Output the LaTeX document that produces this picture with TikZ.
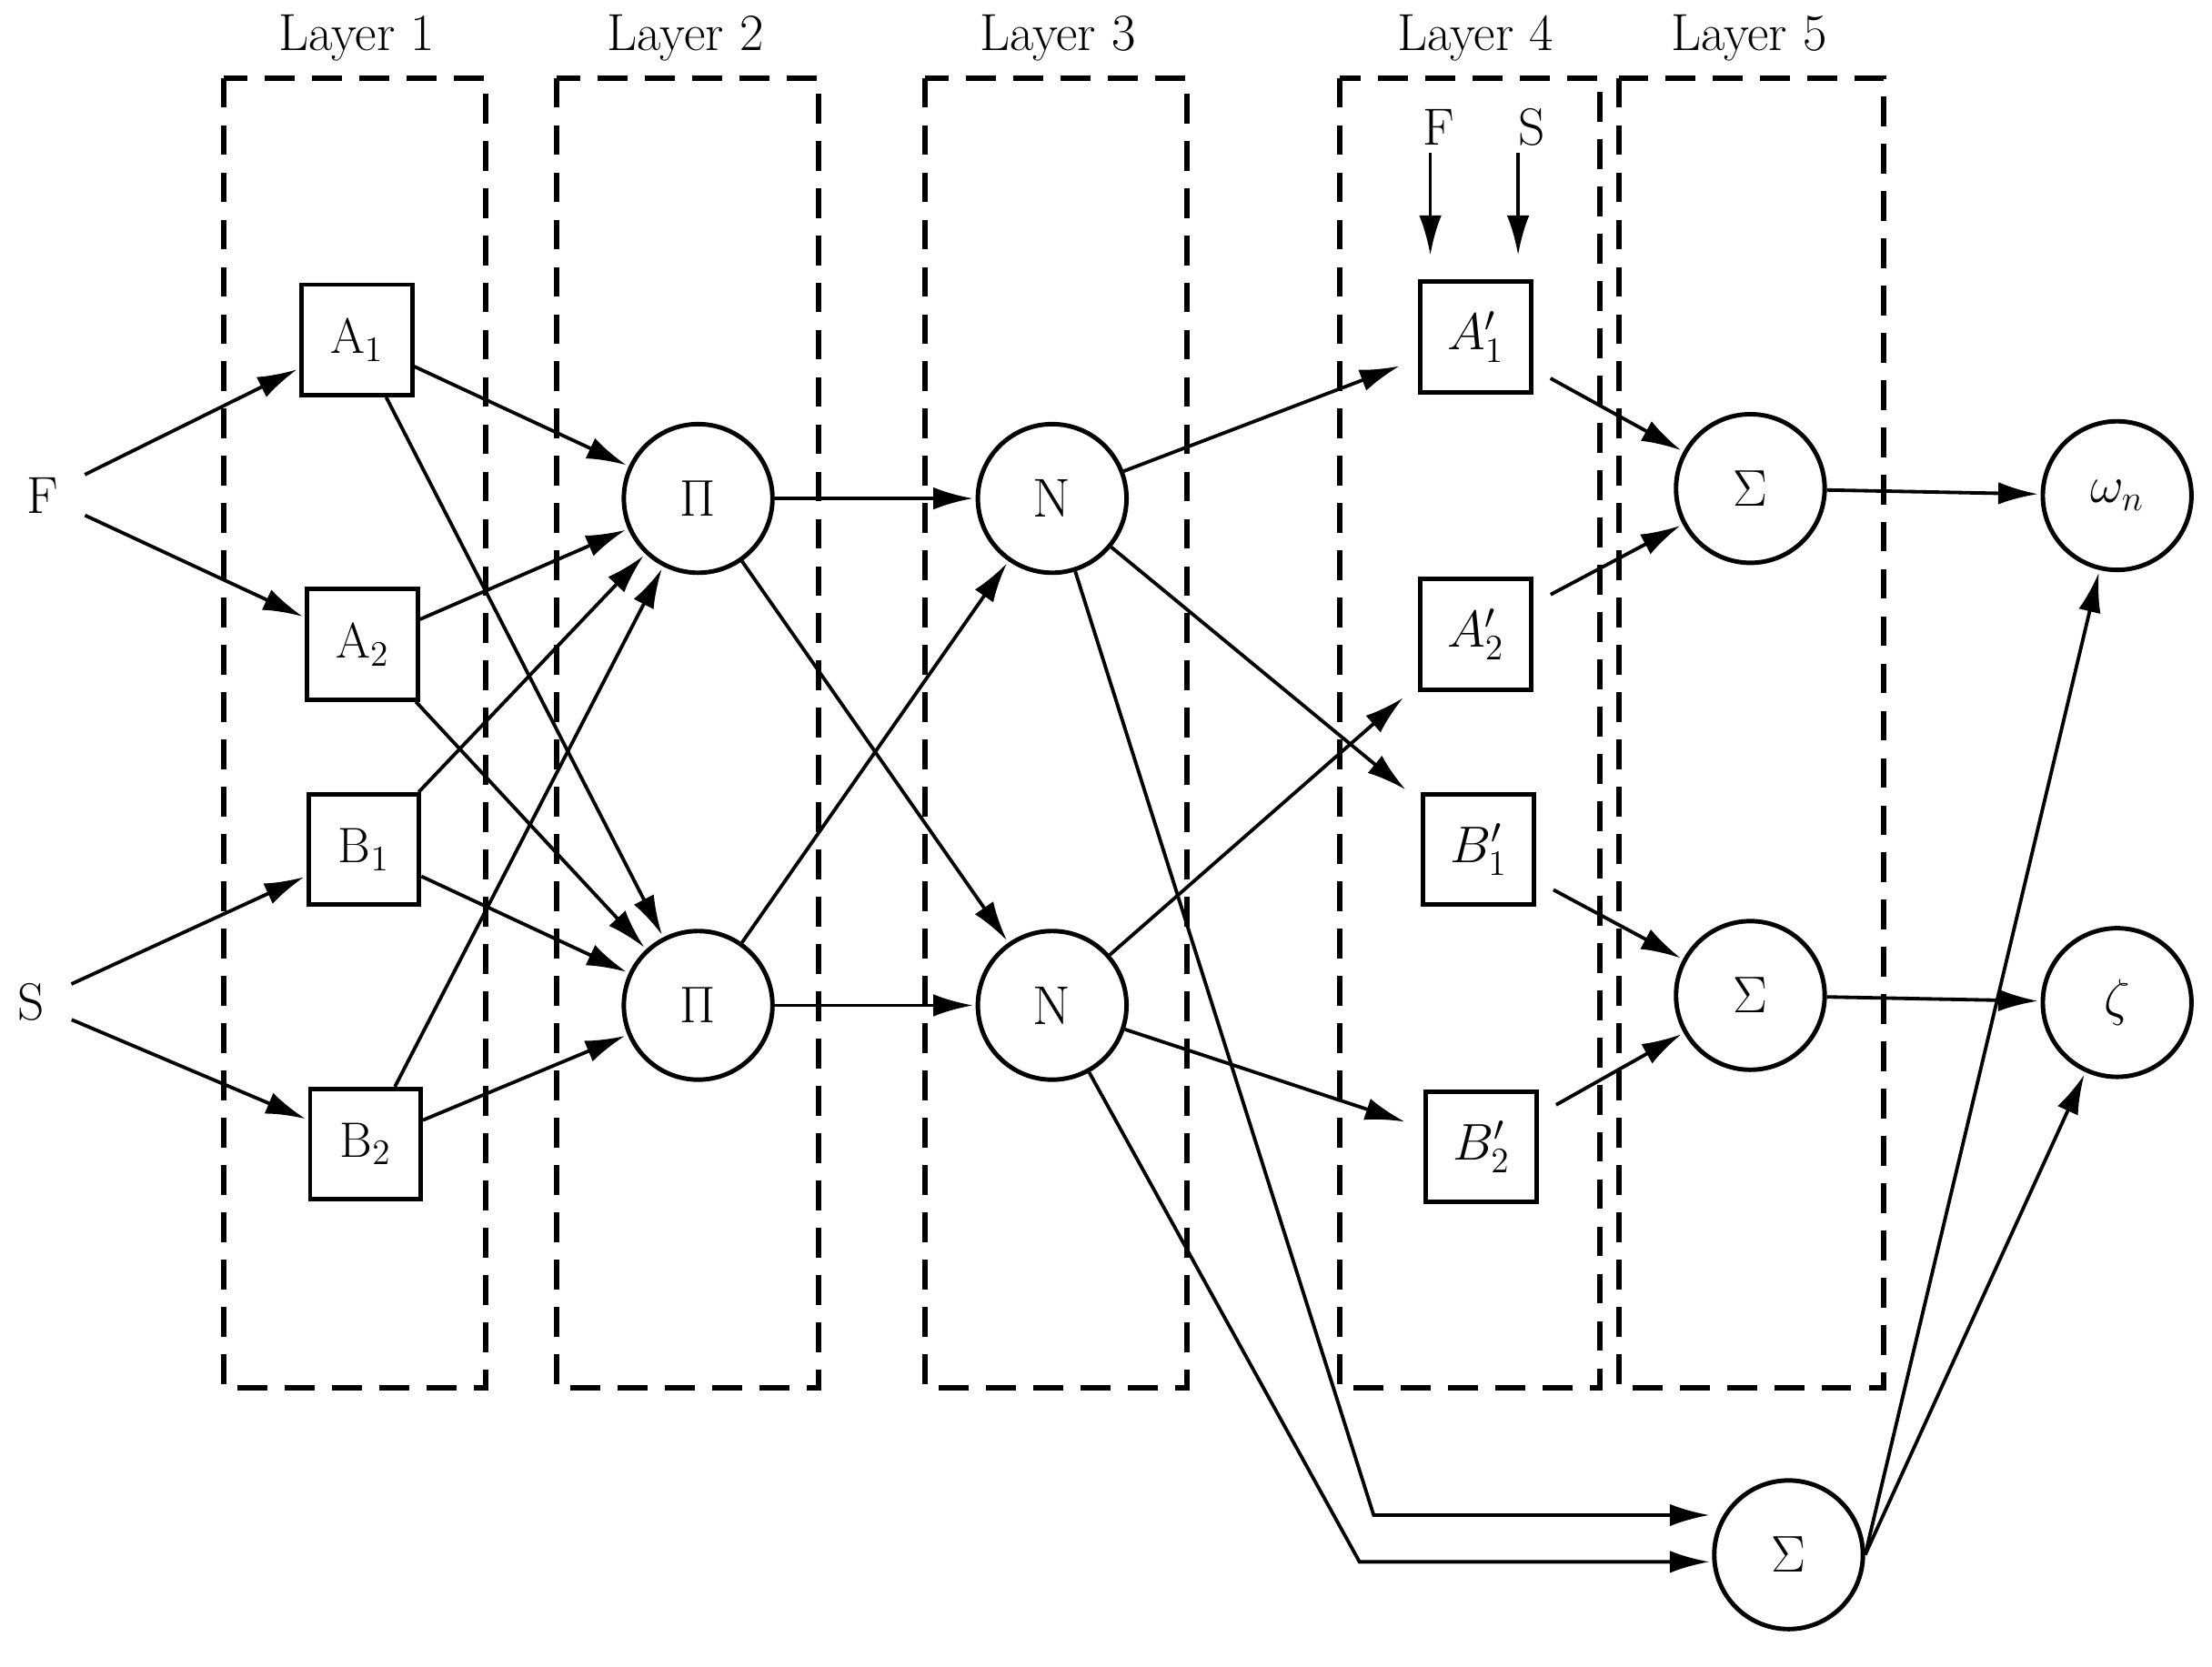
\documentclass[tikz,border=0pt]{standalone}
\usepackage{amsmath}
\usepackage{amssymb}
\usetikzlibrary{arrows,arrows.meta,positioning}
\tikzset{
  sq/.style={draw,line width=1.8pt,minimum size=1.56cm,inner sep=0pt,font=\fontsize{20}{24}\selectfont},
  circ/.style={draw,circle,line width=1.8pt,minimum size=2.1cm,inner sep=0pt,font=\fontsize{22}{26}\selectfont},
  layer/.style={draw,dashed,line width=2.2pt,dash pattern=on 12pt off 7pt},
  lbl/.style={font=\fontsize{21}{25}\selectfont},
  wire/.style={-{Latex[length=16pt,width=9pt]},line width=1.4pt,shorten >=1pt}
}
\begin{document}
\begin{tikzpicture}[x=0.02cm,y=-0.02cm]
   \useasboundingbox (0,0) rectangle (1562,1177);
   % layers
   \draw[layer] (158,55) rectangle (343,980);
   \draw[layer] (393,55) rectangle (578,980);
   \draw[layer] (653,55) rectangle (838,980);
   \draw[layer] (946,55) rectangle (1130,980);
   \draw[layer] (1143,55) rectangle (1330,980);
   \node[lbl] at (252,27) {Layer 1};
   \node[lbl] at (484,27) {Layer 2};
   \node[lbl] at (747,27) {Layer 3};
   \node[lbl] at (1042,27) {Layer 4};
   \node[lbl] at (1235,27) {Layer 5};
   % inputs
   \node[lbl] (f) at (30,350) {F};
   \node[lbl] (s) at (22,708) {S};
   \node[lbl] (f4) at (1016,90) {F};
   \node[lbl] (s4) at (1082,90) {S};
   % layer 1
   \node[sq] (a_1) at (252,240) {A$_1$};
   \node[sq] (a_2) at (256,455) {A$_2$};
   \node[sq] (b_1) at (257,600) {B$_1$};
   \node[sq] (b_2) at (258,808) {B$_2$};
   % layer 2, 3
   \node[circ] (p_1) at (493,352) {$\Pi$};
   \node[circ] (p_2) at (493,710) {$\Pi$};
   \node[circ] (n_1) at (743,352) {N};
   \node[circ] (n_2) at (743,710) {N};
   % layer 4
   \node[sq] (a_1') at (1042,238) {$A_1'$};
   \node[sq] (a_2') at (1042,448) {$A_2'$};
   \node[sq] (b_1') at (1044,600) {$B_1'$};
   \node[sq] (b_2') at (1046,810) {$B_2'$};
   % layer 5 and outputs
   \node[circ] (s_1) at (1236,345) {$\Sigma$};
   \node[circ] (s_2) at (1236,703) {$\Sigma$};
   \node[circ] (s_3) at (1263,1098) {$\Sigma$};
   \node[circ] (w) at (1495,350) {$\omega_n$};
   \node[circ] (z) at (1495,708) {$\zeta$};
   \coordinate (c_1) at (970,1070);
   \coordinate (c_2) at (960,1103);
   \coordinate (d_1) at (1010,108);
   \coordinate (d_2) at (1072,108);
   \coordinate (e_1) at (1010,182);
   \coordinate (e_2) at (1072,182);

   \path[wire]
    (f) edge [shorten <=8pt] (a_1)
        edge [shorten <=8pt] (a_2)
    (s) edge [shorten <=8pt] (b_1)
        edge [shorten <=8pt] (b_2)
    (a_1) edge (p_1) edge (p_2)
    (a_2) edge (p_1) edge (p_2)
    (b_1) edge (p_1) edge (p_2)
    (b_2) edge (p_1) edge (p_2)
    (p_1) edge (n_1) edge (n_2)
    (p_2) edge (n_1) edge (n_2)
    (n_1) edge [shorten >=8pt] (a_1')
          edge [shorten >=8pt] (b_1')
    (n_2) edge [shorten >=8pt] (a_2')
          edge [shorten >=8pt] (b_2')
    (a_1') edge [shorten <=8pt] (s_1)
    (a_2') edge [shorten <=8pt] (s_1)
    (b_1') edge [shorten <=8pt] (s_2)
    (b_2') edge [shorten <=8pt] (s_2)
    (s_1) edge (w)
    (s_2) edge (z)
    (s_3.east) edge (w)
    (s_3.east) edge (z)
    (d_1) edge (e_1)
    (d_2) edge (e_2);
   \draw[wire] (n_1) -- (c_1) -- (c_1 -| s_3.west);
   \draw[wire] (n_2) -- (c_2) -- (c_2 -| s_3.west);
\end{tikzpicture}
\end{document}
